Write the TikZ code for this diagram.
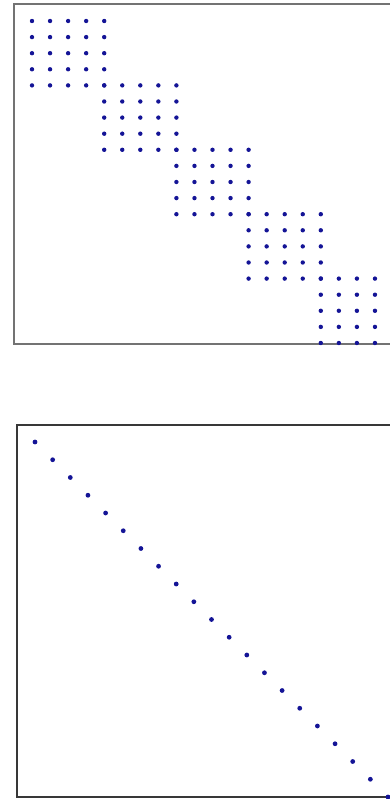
\documentclass[tikz,border=0pt]{standalone}
\usepackage{tikz}
\definecolor{azulPonto}{RGB}{20,20,150}
\definecolor{cinzaQuadro}{RGB}{115,115,115}
\tikzset{
  ponto/.style={fill=azulPonto},
  quadro/.style={draw=cinzaQuadro, line width=1.5pt},
  quadroescuro/.style={draw=black!78, line width=1.3pt},
}
\begin{document}
\begin{tikzpicture}[x=1pt,y=-1pt]
  \useasboundingbox (0,0) rectangle (390,799);
  \clip (0,0) rectangle (390,799);

  % matriz em blocos
  \draw[quadro] (14,4) rectangle (420,344);
  \foreach \k in {0,...,4}
    \foreach \i in {0,...,4}
      \foreach \j in {0,...,4}
        \fill[ponto] ({32+18.05*(4*\k+\i)},{21+16.1*(4*\k+\j)}) circle (2.2pt);

  % matriz diagonal
  \draw[quadroescuro] (17,425) rectangle (420,797);
  \foreach \i in {0,...,20}
    \fill[ponto] ({35+17.65*\i},{442+17.75*\i}) circle (2.4pt);
\end{tikzpicture}
\end{document}
